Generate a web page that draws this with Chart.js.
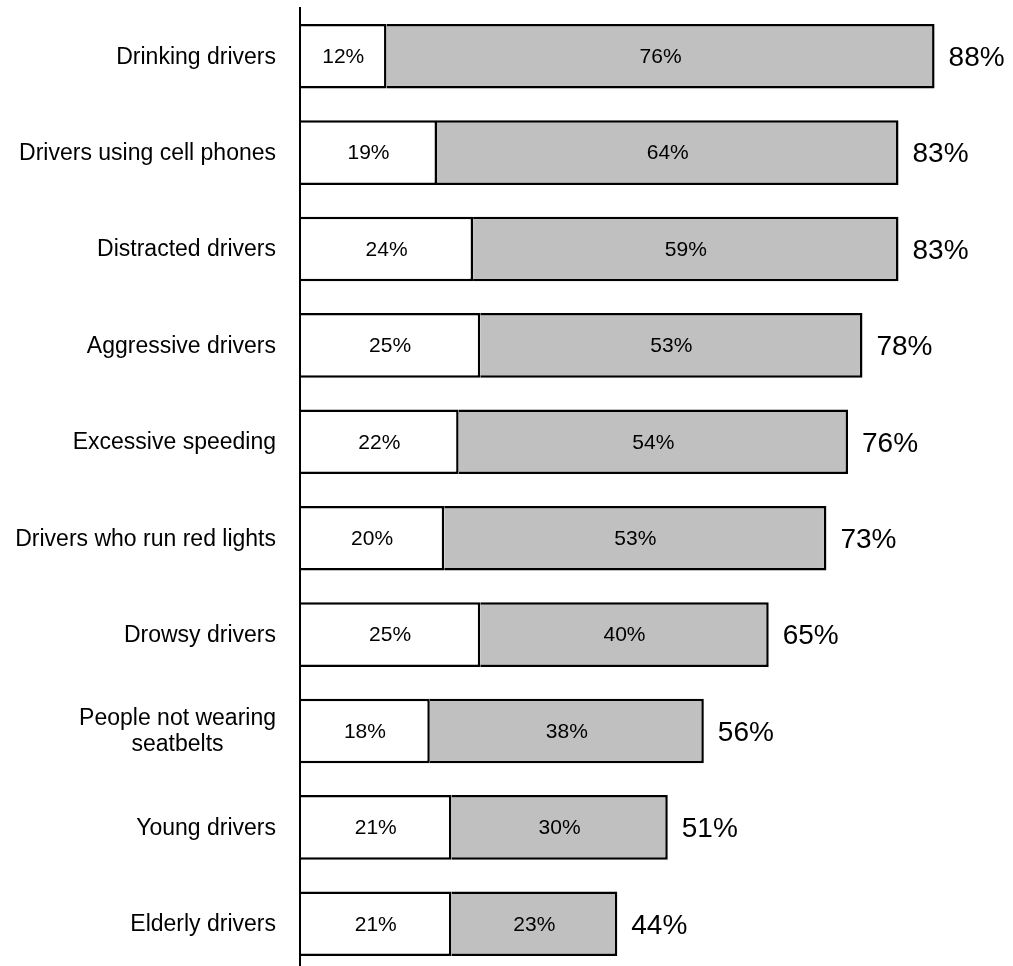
<!DOCTYPE html>
<html>
<head>
<meta charset="utf-8">
<script src="https://cdn.jsdelivr.net/npm/chart.js@4.4.0/dist/chart.umd.min.js"></script>
<style>
  html, body { margin: 0; padding: 0; background: #fff; overflow: hidden; }
  canvas { display: block; }
</style>
</head>
<body>
<canvas id="chart" width="1013" height="972"></canvas>
<script>
const FONT = "'Liberation Sans', Arial, sans-serif";

// row names (arrays break into lines)
const categories = [
  "Drinking drivers",
  "Drivers using cell phones",
  "Distracted drivers",
  "Aggressive drivers",
  "Excessive speeding",
  "Drivers who run red lights",
  "Drowsy drivers",
  ["People not wearing", "seatbelts"],
  "Young drivers",
  "Elderly drivers",
];

// white segment, then grey segment
const firstPart = [12, 19, 24, 25, 22, 20, 25, 18, 21, 21];
const secondPart = [76, 64, 59, 53, 54, 53, 40, 38, 30, 23];

// labels on the bars, row names and totals after each bar
const barText = {
  id: "barText",
  afterDatasetsDraw(chart) {
    const ctx = chart.ctx;
    const xScale = chart.scales.x;
    const yScale = chart.scales.y;
    ctx.save();
    ctx.fillStyle = "#000";
    ctx.textBaseline = "middle";

    ctx.font = "23px " + FONT;
    ctx.textAlign = "center";
    categories.forEach((label, i) => {
      const lines = Array.isArray(label) ? label : [label];
      const y = yScale.getPixelForValue(i) + 1;
      const widest = Math.max(...lines.map((l) => ctx.measureText(l).width));
      const cx = chart.chartArea.left - 24 - widest / 2;
      lines.forEach((l, j) => {
        ctx.fillText(l, cx, y + (j - (lines.length - 1) / 2) * 26);
      });
    });

    ctx.font = "21px " + FONT;
    chart.data.datasets.forEach((ds, di) => {
      chart.getDatasetMeta(di).data.forEach((bar, i) => {
        const { x, y, base } = bar.getProps(["x", "y", "base"], true);
        ctx.fillText(ds.data[i] + "%", (x + base) / 2, y + 1);
      });
    });

    ctx.font = "28px " + FONT;
    ctx.textAlign = "left";
    firstPart.forEach((v, i) => {
      const total = v + secondPart[i];
      ctx.fillText(total + "%", xScale.getPixelForValue(total) + 14, yScale.getPixelForValue(i) + 2);
    });
    ctx.restore();
  },
};

new Chart(document.getElementById("chart").getContext("2d"), {
  type: "bar",
  data: {
    labels: categories,
    datasets: [
      {
        data: firstPart,
        backgroundColor: "#ffffff",
        borderColor: "#000000",
        borderWidth: 2.5,
        barPercentage: 0.67,
        categoryPercentage: 1,
      },
      {
        data: secondPart,
        backgroundColor: "#c0c0c0",
        borderColor: "#000000",
        borderWidth: 2.5,
        barPercentage: 0.67,
        categoryPercentage: 1,
      },
    ],
  },
  options: {
    indexAxis: "y",
    responsive: false,
    animation: false,
    layout: { padding: { left: 300, right: 64, top: 8, bottom: 0 } },
    plugins: { legend: { display: false }, tooltip: { enabled: false } },
    scales: {
      x: { stacked: true, min: 0, max: 90, display: false },
      y: {
        stacked: true,
        ticks: { display: false },
        grid: { display: false, drawTicks: false },
        border: { display: true, color: "#000", width: 2, z: 1 },
      },
    },
  },
  plugins: [barText],
});
</script>
</body>
</html>
